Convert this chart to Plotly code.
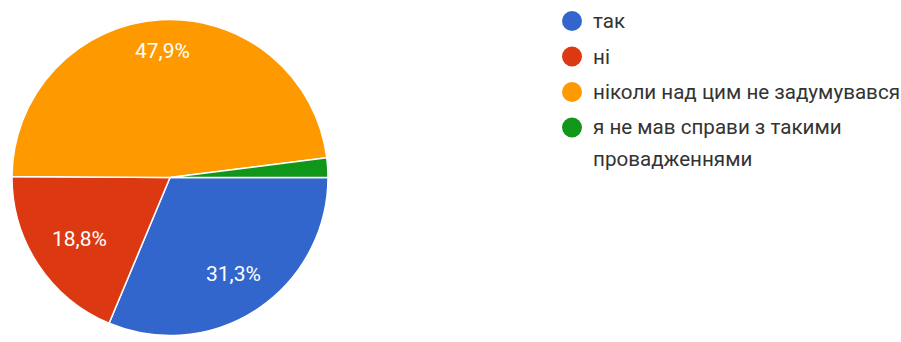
import math
import plotly.graph_objects as go

# Survey answers and their shares (%)
categories = ["так", "ні", "ніколи над цим не задумувався", "я не мав справи з такими<br>провадженнями"]
shares = [31.3, 18.8, 47.9, 2.0]
colors = ["#3366cc", "#dc3912", "#ff9900", "#109618"]

# Radial position of each slice label, as a fraction of the pie radius
label_radius = [0.725, 0.69, 0.81, 0.75]

W, H = 901, 342
FONT = "Roboto, Arial, sans-serif"

# Pie geometry in pixels
cx, cy, r = 170, 177.5, 158
start_deg = 90  # first slice starts at 3 o'clock, going clockwise

fig = go.Figure()

fig.add_trace(go.Pie(
    labels=[c.replace("<br>", " ") for c in categories],
    values=shares,
    sort=False,
    direction="clockwise",
    rotation=start_deg,
    marker=dict(colors=colors, line=dict(color="white", width=1.5)),
    textinfo="none",
    hoverinfo="label+percent",
    showlegend=False,
    domain=dict(x=[(cx - r) / W, (cx + r) / W], y=[(H - cy - r) / H, (H - cy + r) / H]),
))

# Percentage labels placed at each slice's mid angle
annotations = []
total = sum(shares)
acc = 0.0
for v, fr in zip(shares, label_radius):
    mid = start_deg + (acc + v / 2) / total * 360.0  # compass angle, clockwise from top
    acc += v
    if v / total < 0.05:
        continue
    a = math.radians(mid)
    px = cx + fr * r * math.sin(a)
    py = cy - fr * r * math.cos(a)
    annotations.append(dict(
        x=px / W, y=1 - (py + 1) / H, xref="paper", yref="paper",
        xanchor="center", yanchor="middle", showarrow=False,
        text=f"{v:.1f}%".replace(".", ","),
        font=dict(color="white", size=21, family=FONT),
    ))

# Legend: round markers with labels
shapes = []
row_y = 21
row_gap = 35.5
line_gap = 31
mx, mr = 572, 10
tx = 591
for name, col in zip(categories, colors):
    shapes.append(dict(
        type="circle", xref="paper", yref="paper",
        x0=(mx - mr) / W, x1=(mx + mr) / W,
        y0=1 - (row_y + mr) / H, y1=1 - (row_y - mr) / H,
        fillcolor=col, line=dict(width=0),
    ))
    lines = name.split("<br>")
    for j, ln in enumerate(lines):
        annotations.append(dict(
            x=tx / W, y=1 - (row_y + j * line_gap) / H, xref="paper", yref="paper",
            xanchor="left", yanchor="middle", showarrow=False,
            text=ln, font=dict(color="#333333", size=20.6, family=FONT),
        ))
    row_y += row_gap + (len(lines) - 1) * line_gap

fig.update_layout(
    width=W, height=H,
    margin=dict(l=0, r=0, t=0, b=0),
    paper_bgcolor="white",
    plot_bgcolor="white",
    annotations=annotations,
    shapes=shapes,
)

fig.write_html("out.html")
